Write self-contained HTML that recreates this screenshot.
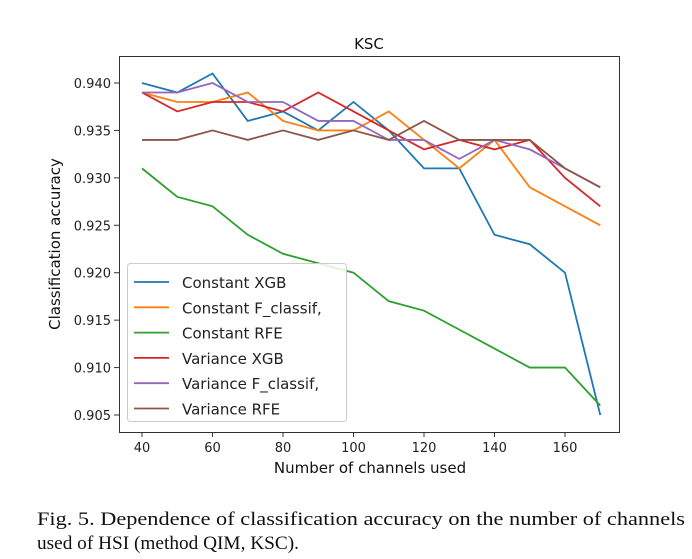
<!DOCTYPE html>
<html><head><meta charset="utf-8"><style>
body{margin:0;background:#fff;}
svg{display:block;font-family:"DejaVu Sans","Liberation Sans",sans-serif;}
</style></head><body>
<svg id="chart" width="692" height="559" viewBox="0 0 692 559">
<rect width="692" height="559" fill="#fff"/>
<text x="369" y="49" font-size="15" text-anchor="middle" fill="#111">KSC</text>
<g id="plot"></g>
<rect x="119.5" y="56.5" width="500" height="376" fill="none" stroke="#333" stroke-width="1"/>
<text x="370" y="473" font-size="15" text-anchor="middle" fill="#111">Number of channels used</text>
<text transform="translate(60,244) rotate(-90)" font-size="15" text-anchor="middle" fill="#111">Classification accuracy</text>
<g id="legend"></g>
<text x="37" y="525" font-family="Liberation Serif, serif" font-size="19" textLength="648" lengthAdjust="spacingAndGlyphs" fill="#111">Fig. 5.  Dependence of classification accuracy on the number of channels</text>
<text x="37" y="549" font-family="Liberation Serif, serif" font-size="19" textLength="262" lengthAdjust="spacingAndGlyphs" fill="#111">used of HSI (method QIM, KSC).</text>
</svg>
<script>
const xValues=[40,50,60,70,80,90,100,110,120,130,140,150,160,170];
const constXGB=[.940,.939,.941,.936,.937,.935,.938,.935,.931,.931,.924,.923,.920,.905];
const constF=[.939,.938,.938,.939,.936,.935,.935,.937,.934,.931,.934,.929,.927,.925];
const constRFE=[.931,.928,.927,.924,.922,.921,.920,.917,.916,.914,.912,.910,.910,.906];
const varXGB=[.939,.937,.938,.938,.937,.939,.937,.935,.933,.934,.933,.934,.930,.927];
const varF=[.939,.939,.940,.938,.938,.936,.936,.934,.934,.932,.934,.933,.931,.929];
const varRFE=[.934,.934,.935,.934,.935,.934,.935,.934,.936,.934,.934,.934,.931,.929];
const seriesNames=["Constant XGB","Constant F_classif,","Constant RFE","Variance XGB","Variance F_classif,","Variance RFE"];
const xTicks=[40,60,80,100,120,140,160];
const yTicks=[0.905,0.910,0.915,0.920,0.925,0.930,0.935,0.940];
const colors=["#1f77b4","#ff7f0e","#2ca02c","#d62728","#9467bd","#8c564b"];
const allSeries=[constXGB,constF,constRFE,varXGB,varF,varRFE];
const NS="http://www.w3.org/2000/svg";
const sx=v=>142+(v-40)*(423/120);
const sy=v=>83+(0.940-v)*(332/0.035);
const plot=document.getElementById('plot');
function mk(t,a,p){const e=document.createElementNS(NS,t);for(const k in a)e.setAttribute(k,a[k]);p.appendChild(e);return e;}
xTicks.forEach(t=>{
  const g=mk('g',{},plot);
  
  
  mk('line',{x1:sx(t),x2:sx(t),y1:432,y2:437,stroke:'#333'},g);
  const tx=mk('text',{x:sx(t),y:452,'font-size':13,'text-anchor':'middle',fill:'#222'},g);tx.textContent=t;
});
yTicks.forEach(t=>{
  const g=mk('g',{},plot);
  
  
  mk('line',{x1:114,x2:119,y1:sy(t),y2:sy(t),stroke:'#333'},g);
  const tx=mk('text',{x:111,y:sy(t)+5,'font-size':13,'text-anchor':'end',fill:'#222'},g);tx.textContent=t.toFixed(3);
});
allSeries.forEach((s,i)=>{
  const p=mk('polyline',{points:s.map((v,j)=>sx(xValues[j])+','+sy(v)).join(' '),fill:'none',stroke:colors[i],'stroke-width':1.8},plot);
  
  
});
const lg=document.getElementById('legend');


mk('rect',{x:127.5,y:263.5,width:219,height:158,rx:3,fill:'#fff','fill-opacity':0.85,stroke:'#ccc'},lg);
seriesNames.forEach((n,i)=>{
  const y=282+i*25.3;
  const g=mk('g',{},lg);
  
  
  mk('line',{x1:134,x2:169,y1:y,y2:y,stroke:colors[i],'stroke-width':1.8},g);
  const t=mk('text',{x:182,y:y+6,'font-size':15,fill:'#222'},g);t.textContent=n;
});
</script>
</body></html>
